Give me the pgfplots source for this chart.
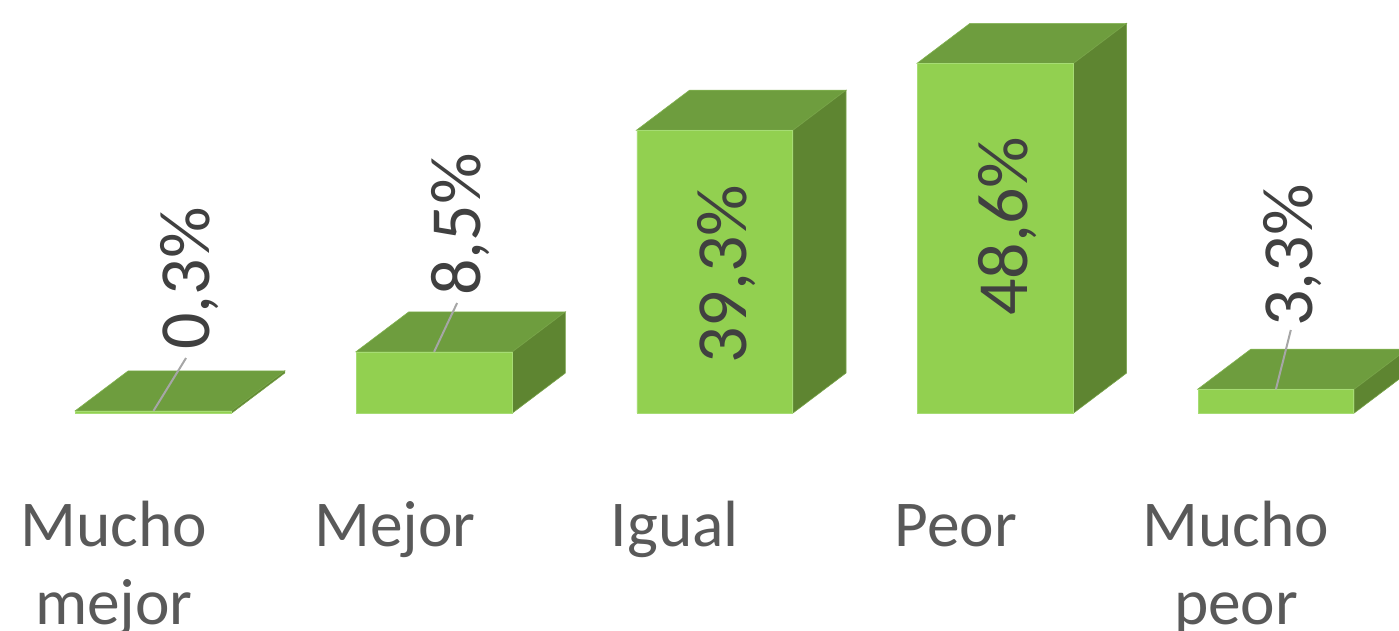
\documentclass[border=0pt]{standalone}
\usepackage{fontspec}
\setmainfont{Carlito}
\usepackage{pgfplots}
\pgfplotsset{compat=1.18}
\definecolor{frontc}{HTML}{92D050}
\definecolor{topc}{HTML}{6E9D3E}
\definecolor{sidec}{HTML}{5E8531}
\definecolor{edgec}{HTML}{A6DC74}
\definecolor{leaderc}{HTML}{A6A6A6}
\definecolor{labelc}{HTML}{404040}
\definecolor{catc}{HTML}{595959}
% depth of a bar: 0.189 categories across, 5.56 units up; half width 0.279
\newcommand{\barbox}[2]{%
  \addplot[fill=topc,draw=edgec!35!topc,line width=0.6pt] coordinates {
    ({#1-0.279},#2) ({#1+0.279},#2) ({#1+0.468},{#2+5.56}) ({#1-0.090},{#2+5.56})} -- cycle;
  \addplot[fill=sidec,draw=edgec!35!sidec,line width=0.6pt] coordinates {
    ({#1+0.279},0) ({#1+0.468},5.56) ({#1+0.468},{#2+5.56}) ({#1+0.279},#2)} -- cycle;
}
\begin{document}
\begin{tikzpicture}
\path[use as bounding box,clip] (0,0) rectangle (1399pt,631pt);
\begin{axis}[
    at={(0,0)}, anchor=south west,
    scale only axis,
    width=1399pt, height=631pt,
    xmin=-0.547, xmax=4.4387,
    ymin=-30.30, ymax=57.40,
    axis x line=middle,
    axis y line=none,
    x axis line style={draw=none},
    major tick length=0pt,
    ytick=\empty,
    xtick={-0.141,0.860,1.858,2.860,3.858},
    xticklabels={{\strut Mucho\\mejor},{\strut Mejor},{\strut Igual},{\strut Peor},{\strut Mucho\\peor}},
    xticklabel style={align=center,anchor=north,yshift=-75pt,text=catc,
        font=\fontsize{65.4}{78}\selectfont},
]
\barbox{0}{0.3}
\barbox{1}{8.5}
\barbox{2}{39.3}
\barbox{3}{48.6}
\barbox{4}{3.3}
% front faces
\addplot[ybar,bar width=155.5pt,fill=frontc,draw=edgec,line width=0.6pt] coordinates {
    (0,0.3) (1,8.5) (2,39.3) (3,48.6) (4,3.3)};
% leader lines
\addplot[leaderc,line width=2pt] coordinates {(0,0.3) (0.116,7.64)};
\addplot[leaderc,line width=2pt] coordinates {(1,8.5) (1.082,15.29)};
\addplot[leaderc,line width=2pt] coordinates {(4,3.3) (4.053,11.54)};
% value labels
\begin{scope}[every node/.style={rotate=90,anchor=base west,inner sep=0pt,text=labelc,
        font=\fontsize{72}{72}\selectfont}]
\node at (axis cs:0.201,8.73) {0,3\%};
\node at (axis cs:1.164,16.27) {8,5\%};
\node at (axis cs:2.112,6.81) {39,3\%};
\node at (axis cs:3.113,13.49) {48,6\%};
\node at (axis cs:4.132,11.95) {3,3\%};
\end{scope}
\end{axis}
\end{tikzpicture}
\end{document}
